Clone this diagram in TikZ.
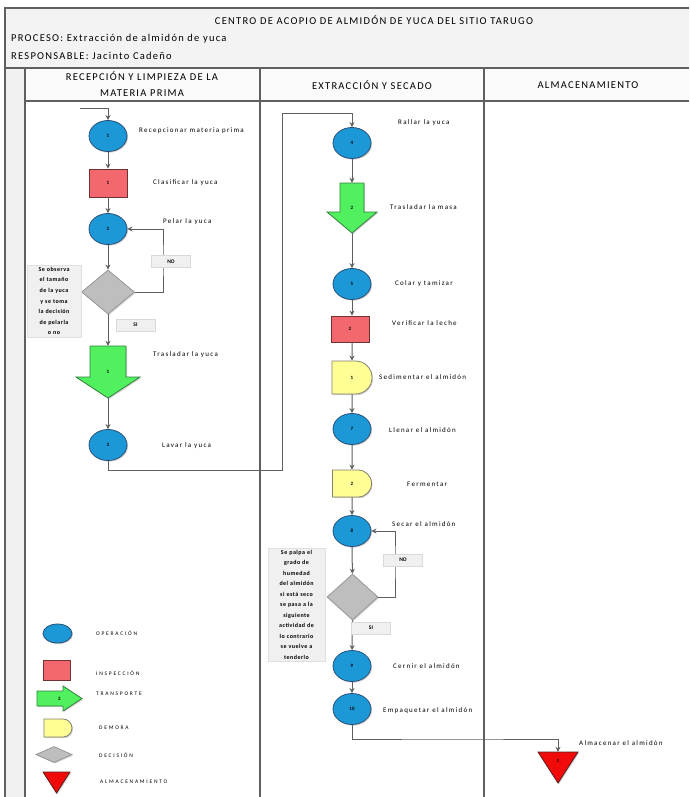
\documentclass[tikz,border=0pt]{standalone}
\usepackage{fontspec}
\setmainfont{Carlito}
\newfontfamily\hdrfont[LetterSpace=12]{Carlito}
\newfontfamily\bodyfont[LetterSpace=18]{Carlito}
\newfontfamily\legfont[LetterSpace=32]{Carlito}
\newfontfamily\boxfont[LetterSpace=8]{Carlito}
\usetikzlibrary{shapes.geometric,shapes.misc,arrows.meta,shadows}
\definecolor{opblue}{RGB}{28,152,214}
\definecolor{opborder}{RGB}{40,80,120}
\definecolor{insred}{RGB}{242,104,110}
\definecolor{insborder}{RGB}{110,50,50}
\definecolor{trgreen}{RGB}{80,240,95}
\definecolor{trborder}{RGB}{50,130,60}
\definecolor{dlyellow}{RGB}{255,255,150}
\definecolor{dlborder}{RGB}{130,130,110}
\definecolor{decgray}{RGB}{190,190,190}
\definecolor{decborder}{RGB}{150,150,150}
\definecolor{stred}{RGB}{240,10,10}
\definecolor{stborder}{RGB}{90,30,30}
\definecolor{linegray}{RGB}{95,95,95}
\definecolor{hdrfill}{RGB}{243,243,243}
\begin{document}
\begin{tikzpicture}[x=1pt,y=-1pt,
  gridline/.style={draw=linegray,line width=1.3pt},
  conn/.style={draw=linegray,line width=1pt,-{Stealth[length=5pt,width=5pt]}},
  shad/.style={drop shadow={opacity=0.35,shadow xshift=1pt,shadow yshift=-1.2pt}},
  lab/.style={font=\fontsize{5}{6}\selectfont\bfseries},
  op/.style={ellipse,draw=opborder,fill=opblue,line width=0.8pt,inner sep=0pt,minimum width=38pt,minimum height=31pt,lab,shad},
  insp/.style={rectangle,draw=insborder,fill=insred,line width=0.8pt,inner sep=0pt,minimum width=38pt,minimum height=28pt,lab,shad},
  delay/.style={rounded rectangle,rounded rectangle west arc=none,draw=dlborder,fill=dlyellow,line width=0.8pt,inner sep=0pt,minimum width=39pt,minimum height=31pt,lab,shad},
  dec/.style={diamond,draw=decborder,fill=decgray,line width=0.8pt,inner sep=0pt,minimum width=53pt,minimum height=44pt,shad},
  ghost/.style={inner sep=0pt,lab},
  shapedraw/.style={line width=0.8pt,line join=miter,shad},
  txt/.style={anchor=west,inner sep=0pt,font=\bodyfont\fontsize{7}{8}\selectfont},
  leg/.style={anchor=west,inner sep=0pt,font=\legfont\fontsize{5.5}{6}\selectfont},
  ansbox/.style={draw=black!15,fill=black!6,inner sep=0pt,minimum width=39pt,minimum height=12pt,font=\fontsize{5.5}{6}\selectfont\bfseries},
  note/.style={draw=black!12,fill=black!6,inner sep=2pt,align=center,font=\boxfont\bfseries\fontsize{6}{10.5}\selectfont},
  hdr/.style={font=\hdrfont\fontsize{10.5}{16}\selectfont,inner sep=0pt},
]
\useasboundingbox (0,0) rectangle (689,797);
\fill[white] (0,0) rectangle (689,797);
\fill[hdrfill] (5,8) rectangle (689,68);
\fill[black!2] (25,68) rectangle (689,101);
\fill[black!6] (5,68) rectangle (25,797);
% grid
\draw[gridline] (689,8) -- (5,8) -- (5,797);
\draw[gridline] (5,68) -- (689,68);
\draw[gridline] (25,68) -- (25,797);
\draw[gridline] (25,101) -- (689,101);
\draw[gridline] (260,68) -- (260,797);
\draw[gridline] (484,68) -- (484,797);
% header texts
\node[hdr] (title) at (374,20) {CENTRO DE ACOPIO DE ALMIDÓN DE YUCA DEL SITIO TARUGO};
\node[hdr,anchor=west] (proc) at (11,39) {PROCESO: Extracción de almidón de yuca};
\node[hdr,anchor=west] (resp) at (11,56) {RESPONSABLE: Jacinto Cadeño};
\node[hdr,align=center] (h1) at (142,84.5) {RECEPCIÓN Y LIMPIEZA DE LA\\MATERIA PRIMA};
\node[hdr] (h2) at (372,85) {EXTRACCIÓN Y SECADO};
\node[hdr] (h3) at (588,85) {ALMACENAMIENTO};

% ---------- column 1 ----------
\node[op] (o1) at (108,136) {1};
\node[insp] (i1) at (108,183) {1};
\node[op] (o2) at (108,229) {2};
\node[dec] (d1) at (108,292) {};
\draw[shapedraw,draw=trborder,fill=trgreen] (90,346) -- (126,346) -- (126,377) -- (140,377) -- (108,398) -- (76,377) -- (90,377) -- cycle;
\node[ghost,minimum width=66pt,minimum height=52pt] (t1) at (108,372) {1};
\node[op] (o3) at (108,445) {3};

\node[txt] (x1) at (139,131) {Recepcionar materia prima};
\node[txt] (x2) at (153,183) {Clasificar la yuca};
\node[txt] (x3) at (163,222) {Pelar la yuca};
\node[txt] (x4) at (153,355) {Trasladar la yuca};
\node[txt] (x5) at (162,446) {Lavar la yuca};

% ---------- column 2 ----------
\node[op] (o4) at (352,143) {4};
\draw[shapedraw,draw=trborder,fill=trgreen] (340,183) -- (364,183) -- (364,212) -- (377,212) -- (352,233) -- (327,212) -- (340,212) -- cycle;
\node[ghost,minimum width=50pt,minimum height=50pt] (t2) at (352,208) {2};
\node[op] (o5) at (352,284) {5};
\node[insp,minimum height=26pt] (i2) at (350,329) {2};
\node[delay,minimum height=33pt,minimum width=40pt] (dl1) at (352,377.5) {1};
\node[op] (o7) at (352,429) {7};
\node[delay,minimum height=27pt] (dl2) at (352,483.5) {2};
\node[op] (o8) at (352,531) {8};
\node[dec,minimum width=51pt,minimum height=46pt] (d2) at (352.5,597) {};
\node[op] (o9) at (352,666) {9};
\node[op] (o10) at (352,709) {10};

\node[txt] (y1) at (398,123) {Rallar la yuca};
\node[txt] (y2) at (390,207) {Trasladar la masa};
\node[txt] (y3) at (395,284) {Colar y tamizar};
\node[txt] (y4) at (392,323) {Verificar la leche};
\node[txt] (y5) at (379,377) {Sedimentar el almidón};
\node[txt] (y6) at (389,430) {Llenar el almidón};
\node[txt] (y7) at (407,484) {Fermentar};
\node[txt] (y8) at (392,524) {Secar el almidón};
\node[txt] (y9) at (393,666) {Cernir el almidón};
\node[txt] (y10) at (383,711) {Empaquetar el almidón};

% ---------- column 3 ----------
\draw[shapedraw,draw=stborder,fill=stred] (538,752) -- (578,752) -- (558,783) -- cycle;
\node[ghost,minimum width=40pt,minimum height=31pt] (a1) at (558,767.5) {};
\node[ghost] (a1lab) at (558,761) {1};
\node[txt] (z1) at (579,743) {Almacenar el almidón};

% ---------- connectors ----------
\coordinate (s0) at (80,109);
\coordinate (lp1) at (163,260);
\coordinate (b1) at (282,470);
\coordinate (b2) at (282,114);
\coordinate (lp2) at (395,560);
\coordinate (b3) at (450,739);
\draw[conn] (s0) -| (o1.north);
\draw[conn] (o1) -- (i1);
\draw[conn] (i1) -- (o2);
\draw[conn] (o2) -- (d1);
\draw[conn] (d1.east) -| (lp1) |- (o2.east);
\draw[conn] (d1) -- (t1);
\draw[conn] (t1) -- (o3);
\draw[conn] (o3.south) |- (b1) -- (b2) -| (o4.north);
\draw[conn] (o4) -- (t2);
\draw[conn] (t2) -- (o5);
\draw[conn] (o5) -- (i2.north -| o5.south);
\draw[conn] (i2.south -| o5.south) -- (dl1);
\draw[conn] (dl1) -- (o7);
\draw[conn] (o7) -- (dl2);
\draw[conn] (dl2) -- (o8);
\draw[conn] (o8) -- (d2);
\draw[conn] (d2.east) -| (lp2) |- (o8.east);
\draw[conn] (d2) -- (o9);
\draw[conn] (o9) -- (o10);
\draw[conn] (o10.south) |- (b3) -| (a1.north);

% answer boxes and notes
\node[ansbox] (no1) at (171,261.5) {NO};
\node[ansbox] (si1) at (135.5,325) {SI};
\node[ansbox] (no2) at (403,560) {NO};
\node[ansbox] (si2) at (371,628) {SI};
\node[note,text width=50pt,font=\boxfont\bfseries\fontsize{6}{10.6}\selectfont] (n1) at (54,301) {Se observa\\el tamaño\\de la yuca\\y se toma\\la decisión\\de pelarla\\o no};
\node[note,text width=53pt] (n2) at (296.5,604.5) {Se palpa el\\grado de\\humedad\\del almidón\\si está seco\\se pasa a la\\siguiente\\actividad de\\lo contrario\\se vuelve a\\tenderlo};

% ---------- legend ----------
\node[op,minimum width=29pt,minimum height=19pt] (lop) at (57.5,633.5) {};
\node[insp,minimum width=27pt,minimum height=20pt] (lins) at (56.5,670) {};
\draw[shapedraw,draw=trborder,fill=trgreen] (37,691) -- (63,691) -- (63,686) -- (82,698.5) -- (63,711) -- (63,706) -- (37,706) -- cycle;
\node[ghost,minimum width=45pt,minimum height=25pt] (ltr) at (59.5,698.5) {2};
\node[delay,minimum width=28pt,minimum height=18pt] (ldl) at (58,728) {};
\node[dec,minimum width=36pt,minimum height=16pt] (ldec) at (54,754.5) {};
\draw[shapedraw,draw=stborder,fill=stred] (43,772) -- (70,772) -- (56.5,793) -- cycle;
\node[ghost,minimum width=27pt,minimum height=21pt] (lst) at (56.5,782.5) {};

\node[leg] (lt1) at (96,633) {OPERACIÓN};
\node[leg] (lt2) at (96,673) {INSPECCIÓN};
\node[leg] (lt3) at (96,694) {TRANSPORTE};
\node[leg] (lt4) at (99,728) {DEMORA};
\node[leg] (lt5) at (99,755) {DECISIÓN};
\node[leg] (lt6) at (100,782) {ALMACENAMIENTO};
\end{tikzpicture}
\end{document}
